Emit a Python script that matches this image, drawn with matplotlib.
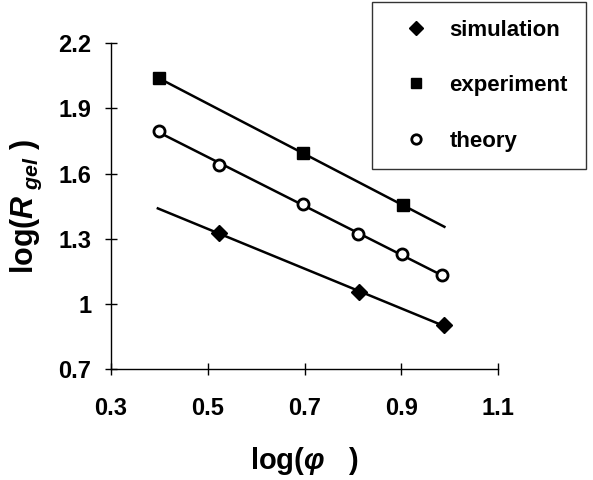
import numpy as np
import matplotlib
matplotlib.use("Agg")
import matplotlib.pyplot as plt

plt.rcParams["font.family"] = "Liberation Sans"
plt.rcParams["font.weight"] = "bold"
plt.rcParams["mathtext.fontset"] = "custom"
plt.rcParams["mathtext.rm"] = "Liberation Sans:bold"
plt.rcParams["mathtext.it"] = "Liberation Sans:italic:bold"
plt.rcParams["mathtext.bf"] = "Liberation Sans:bold"

# log(phi) and log(R_gel) for each data set
sim_x = [0.523, 0.812, 0.989]
sim_y = [1.327, 1.053, 0.902]
exp_x = [0.400, 0.697, 0.903]
exp_y = [2.038, 1.693, 1.455]
theo_x = [0.400, 0.523, 0.697, 0.810, 0.901, 0.985]
theo_y = [1.797, 1.639, 1.459, 1.320, 1.228, 1.133]
# x range covered by the fitted trend lines
fit_range = {"sim": (0.397, 0.989), "exp": (0.400, 0.989), "theo": (0.400, 0.985)}

xticks = [0.3, 0.5, 0.7, 0.9, 1.1]
yticks = [0.7, 1.0, 1.3, 1.6, 1.9, 2.2]
ytick_labels = ["0.7", "1", "1.3", "1.6", "1.9", "2.2"]

fig = plt.figure(figsize=(5.93, 4.8), dpi=100)
ax = fig.add_axes([0.187, 0.231, 0.653, 0.679])


def trend(xs, ys, key):
    k, b = np.polyfit(xs, ys, 1)
    x0, x1 = fit_range[key]
    xx = np.array([x0, x1])
    ax.plot(xx, k * xx + b, color="black", lw=1.8, zorder=2)


trend(sim_x, sim_y, "sim")
trend(exp_x, exp_y, "exp")
trend(theo_x, theo_y, "theo")

ax.plot(sim_x, sim_y, "D", color="black", ms=8, ls="none", label="simulation", zorder=3)
ax.plot(exp_x, exp_y, "s", color="black", ms=8.5, ls="none", label="experiment", zorder=3)
ax.plot(theo_x, theo_y, "o", mfc="white", mec="black", mew=2, ms=8, ls="none",
        label="theory", zorder=3)

ax.set_xlim(0.3, 1.1)
ax.set_ylim(0.7, 2.2)
ax.set_xticks(xticks)
ax.set_xticklabels([f"{t:.1f}" for t in xticks])
ax.set_yticks(yticks)
ax.set_yticklabels(ytick_labels)
ax.tick_params(direction="inout", length=8, width=1, labelsize=17)
ax.tick_params(axis="x", pad=16)
ax.tick_params(axis="y", pad=10)
for s in ["top", "right"]:
    ax.spines[s].set_visible(False)
ax.spines["left"].set_linewidth(1)
ax.spines["bottom"].set_linewidth(1)

ax.set_xlabel(r"log($\mathit{\varphi}$   )", fontsize=21, fontweight="bold", labelpad=18)
ax.set_ylabel(r"log($\mathit{R}_{\ \mathit{gel}}$ )", fontsize=22, fontweight="bold",
              labelpad=10)

leg = fig.legend(loc="upper left", bbox_to_anchor=(0.627, 0.996), fontsize=16,
                 frameon=True, fancybox=False, edgecolor="black", labelspacing=1.55,
                 handletextpad=0.3, borderpad=0.8, handlelength=2.4, borderaxespad=0,
                 markerscale=0.85)
leg.get_frame().set_linewidth(1)

fig.savefig("out.png", dpi=100)
